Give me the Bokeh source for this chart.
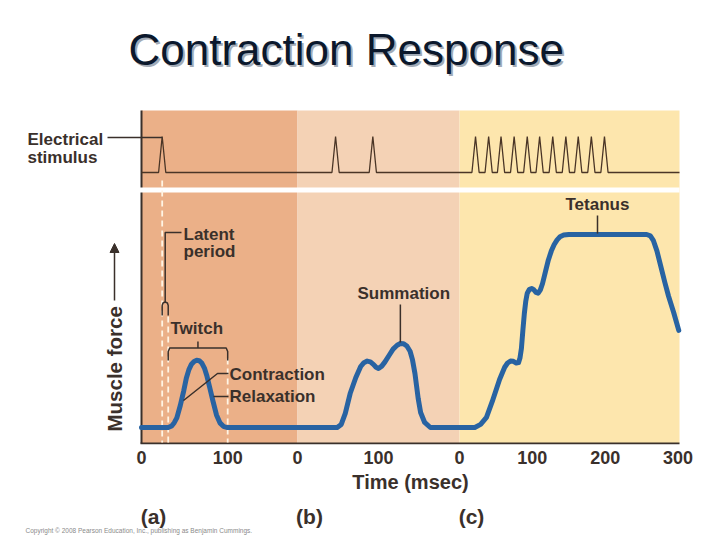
import math
from bokeh.plotting import figure
from bokeh.layouts import column
from bokeh.models import (Range1d, FixedTicker, CustomJSTickFormatter, Label, Arrow, NormalHead,
                          LinearAxis)
from bokeh.embed import file_html
from bokeh.resources import INLINE

# ---------------- data ----------------
PANEL_NAMES = ["(a)", "(b)", "(c)"]
PANEL_MS = [181, 200, 302]          # time span shown in each panel (ms)
PANEL_TICKS = [[0, 100], [0, 100], [0, 100, 200, 300]]
X_TITLE = "Time (msec)"

# electrical stimuli (ms within each panel)
STIM_A_MS = [24]
STIM_B_MS = [47, 93]
STIM_C_MS = [22, 40, 57, 75, 93, 110, 128, 146, 163, 181, 199]

# (a) single twitch
TWITCH_MS = [0, 31, 35, 38, 41, 45, 49, 52, 55, 58, 61, 64, 67, 70, 73, 76, 79, 83, 87, 91, 95, 99, 181]
TWITCH_FORCE = [0, 0, 0.8, 2.5, 5, 11.4, 19, 25.5, 30, 32.8, 34.2, 34.8, 34.6, 33.4, 30.8, 26.5,
                21, 13.5, 6.5, 2.4, 0.6, 0, 0]

# (b) summation
SUM_MS = [0, 49, 54, 59, 65, 72, 78, 82, 86, 90, 94, 97, 100, 104, 108, 113, 118, 123, 127, 131,
          135, 139, 142, 145, 147, 149, 152, 157, 164, 200]
SUM_FORCE = [0, 0, 1.6, 7.3, 17.6, 25.9, 31.6, 33.6, 34.4, 34, 32.6, 31.2, 30.6, 31.8, 34, 37.3,
             40.6, 42.6, 43.5, 43.4, 42.2, 39.5, 35, 28, 21.5, 15, 7.8, 2.6, 0, 0]

# (c) tetanus
TET_MS = [0, 21, 29, 37, 45, 55, 62, 66, 70, 74, 78, 81, 83, 85, 87, 89, 91, 93, 96, 99, 102,
          105, 108, 111, 114, 118, 122, 126, 130, 134, 138, 143, 150, 257, 262, 266, 271, 276,
          282, 287, 294, 301]
TET_FORCE = [0, 0, 1.6, 5.2, 13.5, 24.9, 31.2, 33.4, 34.4, 34.3, 33.4, 33.6, 36, 41, 50.3, 59,
             65.5, 69.6, 71.6, 72, 71.4, 70, 69.6, 71.3, 74.6, 80.8, 86.8, 91.4, 94.8, 97.2, 98.8,
             99.7, 100, 100, 99.3, 97, 91.5, 84, 75, 68, 59.6, 50.3]

LATENT_MS = [24, 31]      # stimulus -> start of contraction
TWITCH_END_MS = 100

# ---------------- layout / style ----------------
PANEL_WIDTH = [156, 162, 220]
PANEL_COLORS = ["#EBB088", "#F4D2B5", "#FDE6AD"]
CURVE_COLOR = "#2863A2"
INK = "#3a302b"
STIM_INK = "#4a3526"
FONT = "Liberation Sans"

W = 712
FRAME_LEFT_PX = 141
BASE_PY = 427
PX_PER_FORCE = 1.93
TOP_H = 444          # frame height of the main figure
AXIS_H = 62          # room for the time axis
BOT_H = 30           # strip with panel letters and credit line
BASELINE_SHIFT = 0.36  # empirical em shift to place the text baseline


def to_x(panel, ms):
    start = sum(PANEL_WIDTH[:panel])
    return start + ms * PANEL_WIDTH[panel] / PANEL_MS[panel]


def X(px):
    return px - FRAME_LEFT_PX


def Y(py):
    return (BASE_PY - py) / PX_PER_FORCE


x_range = Range1d(X(0), X(W))
p = figure(width=W, height=TOP_H + AXIS_H, output_backend="svg", toolbar_location=None,
           x_range=x_range, y_range=Range1d(Y(TOP_H), Y(0)), title=None,
           min_border_left=0, min_border_right=0, min_border_top=0, min_border_bottom=AXIS_H)
p.extra_y_ranges = {"stim": Range1d((172 - TOP_H) / 36.0, 172 / 36.0)}
p.outline_line_color = None
p.grid.visible = False
p.yaxis.visible = False
p.background_fill_color = "white"
p.border_fill_color = "white"

x_end = sum(PANEL_WIDTH)
y_lo, y_hi = Y(443), Y(110)

# panel backgrounds
lefts = [to_x(i, 0) for i in range(3)]
rights = [to_x(i, PANEL_MS[i]) for i in range(3)]
p.quad(left=lefts, right=rights, bottom=y_lo, top=y_hi, fill_color=PANEL_COLORS, line_color=None)

# frame lines
p.segment(x0=[0, -1], y0=[y_lo, y_lo], x1=[0, x_end], y1=[y_hi, y_lo], line_color=INK, line_width=2)
# white gap between stimulus strip and force panel
p.quad(left=[-2], right=[x_end], bottom=[Y(192)], top=[Y(187)], fill_color="white", line_color=None)

# dashed guide lines in (a)
gx = [to_x(0, LATENT_MS[0]), to_x(0, LATENT_MS[1]), to_x(0, TWITCH_END_MS)]
p.segment(x0=gx, y0=[Y(180), Y(316), Y(358)], x1=gx, y1=[Y(442)] * 3,
          line_color="#FFF4E4", line_width=1.8, line_dash="6 4")

# stimulus trace
HW = 3.6
sx, sy = [], []
for i, times in enumerate([STIM_A_MS, STIM_B_MS, STIM_C_MS]):
    sx.append(to_x(i, 0)); sy.append(0)
    for t in times:
        c = to_x(i, t)
        sx += [c - HW, c, c + HW]
        sy += [0, 1, 0]
    sx.append(to_x(i, PANEL_MS[i])); sy.append(0)
p.line(sx, sy, y_range_name="stim", line_color=STIM_INK, line_width=1.3)

# force curve
fx, fy = [], []
for i, (ms, f) in enumerate([(TWITCH_MS, TWITCH_FORCE), (SUM_MS, SUM_FORCE), (TET_MS, TET_FORCE)]):
    fx += [to_x(i, t) for t in ms]
    fy += list(f)
p.line(fx, fy, line_color=CURVE_COLOR, line_width=5, line_join="round", line_cap="round")

# brackets / leader lines
xl0, xl1 = to_x(0, LATENT_MS[0]), to_x(0, LATENT_MS[1])
xm = (xl0 + xl1) / 2
xt1 = to_x(0, TWITCH_END_MS)
xtm = (xl1 + xt1) / 2
x_sum_peak = to_x(1, SUM_MS[SUM_FORCE.index(max(SUM_FORCE))])
lines_x = [
    [xl0, xl0, xl0 + 0.8, xm, xl1 - 0.8, xl1, xl1],               # latent bracket
    [xm, xm, X(181)],                                              # latent leader
    [xl1, xl1, xl1 + 1.5, xt1 - 1.5, xt1, xt1],                   # twitch bracket
    [xtm, xtm],
    [X(228), X(217), X(183)],                                      # contraction leader
    [X(228), X(213)],                                              # relaxation leader
    [x_sum_peak, x_sum_peak],                                      # summation leader
    [X(597), X(597)],                                              # tetanus leader
    [X(107), to_x(0, STIM_A_MS[0])],                               # stimulus leader
]
lines_y = [
    [Y(315), Y(305), Y(302.5), Y(301.5), Y(302.5), Y(305), Y(315)],
    [Y(301.5), Y(232), Y(232)],
    [Y(360), Y(351), Y(347.5), Y(347.5), Y(351), Y(360)],
    [Y(347.5), Y(341)],
    [Y(373), Y(373), Y(400)],
    [Y(396), Y(396)],
    [Y(304), Y(342)],
    [Y(215), Y(233)],
    [Y(137), Y(137)],
]
p.multi_line(lines_x, lines_y, line_color=INK, line_width=1.5)


def style_axis(a, size, standoff):
    a.minor_tick_line_color = None
    a.major_tick_line_color = None
    a.major_tick_out = 0
    a.major_tick_in = 0
    a.axis_line_color = None
    a.major_label_standoff = standoff
    a.major_label_text_font = FONT
    a.major_label_text_font_style = "bold"
    a.major_label_text_font_size = size
    a.major_label_text_color = INK


# x axis: tick numbers
ticks, labels = [], []
for i, tl in enumerate(PANEL_TICKS):
    for t in tl:
        ticks.append(to_x(i, t))
        labels.append(str(t))
ax = p.xaxis[0]
ax.ticker = FixedTicker(ticks=ticks)
ax.formatter = CustomJSTickFormatter(args=dict(labels=labels), code="return labels[index];")
style_axis(ax, "18px", 6)

# x axis title, centred under the three panels
ax2 = LinearAxis(ticker=FixedTicker(ticks=[x_end / 2]),
                 formatter=CustomJSTickFormatter(args=dict(labels=[X_TITLE]),
                                                 code="return labels[index];"))
style_axis(ax2, "20px", 4)
p.add_layout(ax2, "below")


def lab(fig, text, px, py, size=17, bold=True, align="left", color=INK, angle=0,
        baseline="alphabetic", page_y=False):
    if baseline == "alphabetic":
        py = py - BASELINE_SHIFT * size
    y = py if page_y else Y(py)
    fig.add_layout(Label(x=X(px), y=y, text=text, text_font=FONT, text_font_size=f"{size}px",
                         text_font_style="bold" if bold else "normal", text_color=color,
                         text_align=align, text_baseline=baseline, angle=angle))


# title with shadow
lab(p, "Contraction Response", 130, 67, size=44, bold=False, color="#a3abb6")
lab(p, "Contraction Response", 128, 65, size=44, bold=False, color="#0b182c")

lab(p, "Electrical", 27, 145)
lab(p, "stimulus", 27, 163)
lab(p, "Latent", 183, 240)
lab(p, "period", 183, 257)
lab(p, "Twitch", 170, 334)
lab(p, "Contraction", 229, 380)
lab(p, "Relaxation", 229, 402)
lab(p, "Summation", 357, 299)
lab(p, "Tetanus", 565, 210)
lab(p, "Muscle force", 114, 431, size=20.5, angle=math.pi / 2, baseline="middle")

# muscle force arrow
p.add_layout(Arrow(end=NormalHead(size=9, fill_color=INK, line_color=INK),
                   x_start=X(114), y_start=Y(300), x_end=X(114), y_end=Y(243),
                   line_color=INK, line_width=1.5))

# bottom strip: panel letters and credit line (y in page pixels)
TOTAL_H = TOP_H + AXIS_H + BOT_H
q = figure(width=W, height=BOT_H, output_backend="svg", toolbar_location=None,
           x_range=x_range, y_range=Range1d(TOTAL_H, TOP_H + AXIS_H), title=None,
           min_border_left=0, min_border_right=0, min_border_top=0, min_border_bottom=0)
q.axis.visible = False
q.grid.visible = False
q.outline_line_color = None
q.background_fill_color = "white"
q.border_fill_color = "white"
for i, name in enumerate(PANEL_NAMES):
    lab(q, name, FRAME_LEFT_PX + to_x(i, 0) + 12, 524, size=21, align="center", page_y=True)
lab(q, "Copyright \u00a9 2008 Pearson Education, Inc., publishing as Benjamin Cummings.", 25, 532,
    size=6.5, bold=False, color="#8a8a8a", page_y=True)

layout = column(p, q, spacing=0)
open("out.html", "w").write(file_html(layout, INLINE))
